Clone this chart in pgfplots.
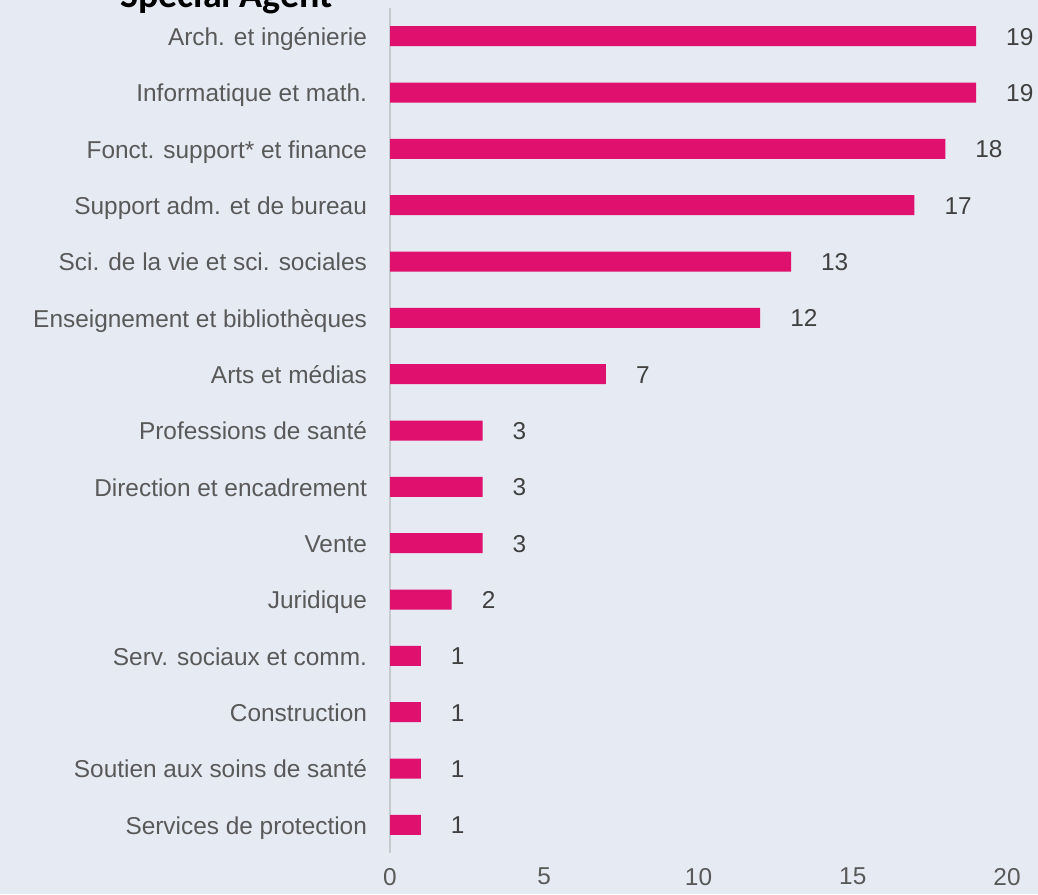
\documentclass[border=0pt]{standalone}
\usepackage{pgfplots}
\pgfplotsset{compat=1.18}
\usepackage{fontspec}
\setmainfont{Liberation Sans}
\newfontfamily\titlefont{Carlito}
\definecolor{bg}{HTML}{E6EAF2}
\definecolor{barc}{HTML}{E0106E}
\definecolor{lab}{HTML}{595959}
\definecolor{val}{HTML}{404040}
\definecolor{axc}{HTML}{C6C9CE}

\pgfplotstableread[col sep=comma]{
idx,val
0,19
1,19
2,18
3,17
4,13
5,12
6,7
7,3
8,3
9,3
10,2
11,1
12,1
13,1
14,1
}\datatable

\begin{document}
\begin{tikzpicture}
\fill[bg] (0,0) rectangle (519pt,447pt);
\begin{axis}[
    at={(195pt,443pt)}, anchor=north west,
    scale only axis,
    width=308.5pt, height=422.5pt,
    xbar, bar width=10pt,
    xmin=0, xmax=20,
    ymin=-0.5, ymax=14.5,
    y dir=reverse,
    axis lines*=left,
    x axis line style={draw=none},
    y axis line style={draw=axc, line width=1pt},
    major tick length=0,
    xtick={0,5,10,15,20},
    ytick={0,...,14},
    yticklabels={Arch. et ingénierie,Informatique et math.,Fonct. support* et finance,Support adm. et de bureau,Sci. de la vie et sci. sociales,Enseignement et bibliothèques,Arts et médias,Professions de santé,Direction et encadrement,Vente,Juridique,Serv. sociaux et comm.,Construction,Soutien aux soins de santé,Services de protection},
    yticklabel style={font=\fontsize{12.2}{14}\selectfont, text=lab, xshift=-8pt, yshift=-1.7pt, text height=1.6ex, text depth=0.45ex},
    xticklabel style={font=\fontsize{12.2}{14}\selectfont, text=lab, yshift=-4pt},
    /pgf/number format/assume math mode=true,
    nodes near coords,
    every node near coord/.append style={font=\fontsize{12.2}{14}\selectfont, text=val, anchor=west, xshift=11.5pt, yshift=-1.5pt, text height=1.6ex, text depth=0.45ex},
    clip=false,
]
\addplot[fill=barc, draw=none] table[x=val, y=idx] {\datatable};
\end{axis}
\node[anchor=base west, inner sep=0pt, font=\titlefont\bfseries\fontsize{19}{22}\selectfont] at (60pt,443pt) {Special Agent};
\pgfresetboundingbox
\useasboundingbox (0,0) rectangle (519pt,447pt);
\end{tikzpicture}
\end{document}
